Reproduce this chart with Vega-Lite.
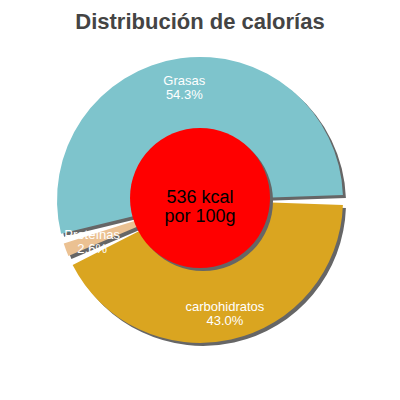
{
  "$schema": "https://vega.github.io/schema/vega-lite/v6.json",
  "width": 400,
  "height": 400,
  "autosize": "none",
  "padding": 0,
  "title": {
    "text": "Distribución de calorías",
    "font": "Liberation Sans",
    "fontSize": 22,
    "fontWeight": "bold",
    "color": "#444444",
    "anchor": "middle",
    "offset": -34
  },
  "config": {"view": {"stroke": null}},
  "resolve": {"scale": {"theta": "independent"}},
  "datasets": {
    "slices": [
      {"nutriente": "carbohidratos", "pct": 43.0, "etiqueta": "43.0%", "ord": 1},
      {"nutriente": "Proteínas", "pct": 2.6, "etiqueta": "2.6%", "ord": 2},
      {"nutriente": "Grasas", "pct": 54.3, "etiqueta": "54.3%", "ord": 3}
    ],
    "centro": [{"kcal": 536, "texto": "536 kcal\npor 100g", "v": 1}]
  },
  "layer": [
    {
      "data": {"name": "slices"},
      "mark": {"type": "arc", "outerRadius": 143, "padAngle": 0.07, "color": "#666666", "xOffset": 3, "yOffset": 3},
      "encoding": {
        "theta": {"field": "pct", "type": "quantitative", "stack": true, "scale": {"range": [1.5708, 7.854]}},
        "order": {"field": "ord"}
      }
    },
    {
      "data": {"name": "slices"},
      "mark": {"type": "arc", "outerRadius": 143, "padAngle": 0.07},
      "encoding": {
        "theta": {"field": "pct", "type": "quantitative", "stack": true, "scale": {"range": [1.5708, 7.854]}},
        "order": {"field": "ord"},
        "color": {
          "field": "nutriente",
          "type": "nominal",
          "legend": null,
          "scale": {"domain": ["carbohidratos", "Proteínas", "Grasas"], "range": ["#DAA520", "#EBC192", "#7EC4CC"]}
        }
      }
    },
    {
      "data": {"name": "slices"},
      "mark": {"type": "text", "radius": 115, "font": "Liberation Sans", "fontSize": 13, "color": "white", "align": "center", "dy": -5},
      "encoding": {
        "theta": {"field": "pct", "type": "quantitative", "stack": true, "scale": {"range": [1.5708, 7.854]}},
        "order": {"field": "ord"},
        "text": {"field": "nutriente"}
      }
    },
    {
      "data": {"name": "slices"},
      "mark": {"type": "text", "radius": 115, "font": "Liberation Sans", "fontSize": 13, "color": "white", "align": "center", "dy": 9},
      "encoding": {
        "theta": {"field": "pct", "type": "quantitative", "stack": true, "scale": {"range": [1.5708, 7.854]}},
        "order": {"field": "ord"},
        "text": {"field": "etiqueta"}
      }
    },
    {
      "data": {"name": "centro"},
      "mark": {"type": "arc", "outerRadius": 70, "color": "#666666", "xOffset": 3, "yOffset": 1},
      "encoding": {"theta": {"field": "v", "type": "quantitative"}}
    },
    {
      "data": {"name": "centro"},
      "mark": {"type": "arc", "outerRadius": 70, "color": "#FF0000", "yOffset": -2},
      "encoding": {"theta": {"field": "v", "type": "quantitative"}}
    },
    {
      "data": {"name": "centro"},
      "mark": {"type": "text", "font": "Liberation Sans", "fontSize": 18, "color": "black", "lineBreak": "\n", "lineHeight": 19, "baseline": "middle", "yOffset": -2},
      "encoding": {"text": {"field": "texto"}}
    }
  ]
}
